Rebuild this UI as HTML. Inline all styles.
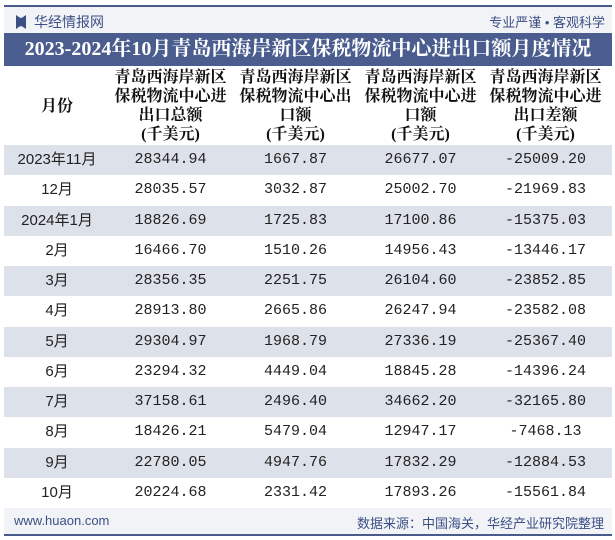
<!DOCTYPE html>
<html><head><meta charset="utf-8">
<style>
body{margin:0;width:615px;height:540px;background:#fff;overflow:hidden;font-family:"Liberation Sans","Noto Sans CJK SC",sans-serif;}
#wrap{position:relative;width:615px;height:540px;}
.topline{position:absolute;left:4px;top:5px;width:608px;height:2px;background:#4a5a8a;}
.head{position:absolute;left:4px;top:7px;width:608px;height:26px;background:#f1f3f7;}
.logo{position:absolute;left:16px;top:12px;font-size:14px;color:#3b4f85;}
.slogan{position:absolute;right:10px;top:12px;font-size:13px;color:#3b4f85;}
.title{position:absolute;left:4px;top:33px;width:608px;height:33px;background:#4a5d8e;color:#fff;font-weight:bold;font-size:20px;line-height:33px;text-align:center;font-family:"Liberation Serif","Noto Serif CJK SC",serif;white-space:nowrap;}
.colh{position:absolute;top:68px;font-weight:bold;font-size:16px;line-height:19px;text-align:center;font-family:"Liberation Serif","Noto Serif CJK SC",serif;color:#111;}
.row{position:absolute;left:4px;width:608px;height:30.3px;}
.cell{position:absolute;top:0;height:30px;line-height:30px;text-align:center;font-size:15px;font-family:"Liberation Mono","Noto Sans CJK SC",monospace;color:#222;}
.foot{position:absolute;left:4px;top:508px;width:608px;height:27px;background:#f1f3f7;}
.bottomline{position:absolute;left:4px;top:534px;width:608px;height:2px;background:#4a5a8a;}
</style></head><body>
<div id="wrap">
<div class="topline"></div>
<div class="head"></div>
<div class="logo"><span style="display:inline-block;width:10px;height:14px;background:#3b4f85;vertical-align:-2px;margin-right:8px;clip-path:polygon(0 0,40% 20%,60% 20%,100% 0,100% 100%,60% 80%,40% 80%,0 100%)"></span>华经情报网</div>
<div class="slogan">专业严谨 • 客观科学</div>
<div class="title">2023-2024年10月青岛西海岸新区保税物流中心进出口额月度情况</div>
<div class="colh" style="left:4px;width:106px;top:97px">月份</div>
<div class="colh" style="left:108px;width:125px">青岛西海岸新区<br>保税物流中心进<br>出口总额<br>(千美元)</div>
<div class="colh" style="left:233px;width:125px">青岛西海岸新区<br>保税物流中心出<br>口额<br>(千美元)</div>
<div class="colh" style="left:358px;width:125px">青岛西海岸新区<br>保税物流中心进<br>口额<br>(千美元)</div>
<div class="colh" style="left:483px;width:125px">青岛西海岸新区<br>保税物流中心进<br>出口差额<br>(千美元)</div>
<div id="rows"></div>
<div class="foot">
<span style="position:absolute;left:10px;top:5px;font-size:13px;color:#3b4f85">www.huaon.com</span>
<span style="position:absolute;right:8px;top:5px;font-size:13px;color:#3b4f85">数据来源：中国海关，华经产业研究院整理</span>
</div>
<div class="bottomline"></div>
</div>
<script>
const months=["2023年11月","12月","2024年1月","2月","3月","4月","5月","6月","7月","8月","9月","10月"];
const totalVals=["28344.94","28035.57","18826.69","16466.70","28356.35","28913.80","29304.97","23294.32","37158.61","18426.21","22780.05","20224.68"];
const exportVals=["1667.87","3032.87","1725.83","1510.26","2251.75","2665.86","1968.79","4449.04","2496.40","5479.04","4947.76","2331.42"];
const importVals=["26677.07","25002.70","17100.86","14956.43","26104.60","26247.94","27336.19","18845.28","34662.20","12947.17","17832.29","17893.26"];
const balanceVals=["-25009.20","-21969.83","-15375.03","-13446.17","-23852.85","-23582.08","-25367.40","-14396.24","-32165.80","-7468.13","-12884.53","-15561.84"];
const host=document.getElementById('rows');
const lefts=[0,104,229,354,479],widths=[106,125,125,125,125];
months.forEach((m,i)=>{
  const r=document.createElement('div');
  r.className='row';
  
  
  r.style.top=(145+i*30.25)+'px';
  r.style.background=i%2===0?'#dde1ea':'#fff';
  const vals=[m,totalVals[i],exportVals[i],importVals[i],balanceVals[i]];
  vals.forEach((v,j)=>{
    const c=document.createElement('div');
    c.className='cell';
    
    
    c.style.left=lefts[j]+'px';c.style.width=widths[j]+'px';
    if(j===0)c.style.fontFamily='"Liberation Sans","Noto Sans CJK SC",sans-serif';
    c.textContent=v;
    r.appendChild(c);
  });
  host.appendChild(r);
});
</script>
</body></html>
